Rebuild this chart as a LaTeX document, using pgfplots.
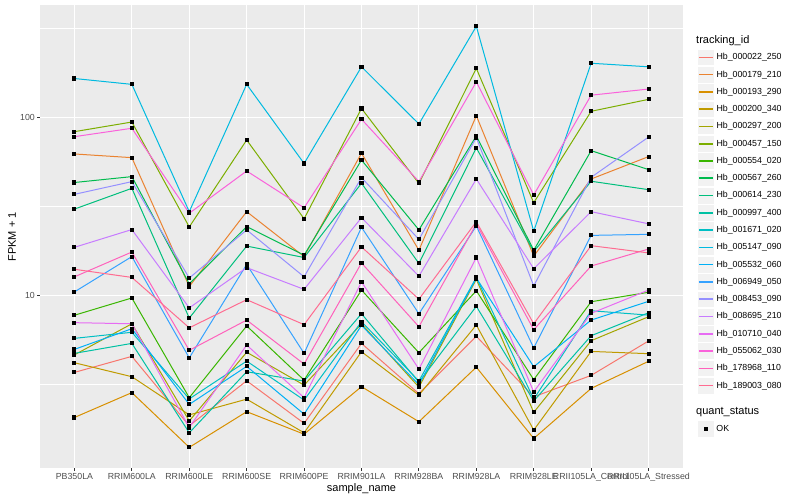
\documentclass[border=0pt]{standalone}
\usepackage{pgfplots}
\pgfplotsset{compat=1.18}
\usepackage{pgfplotstable}
\usepackage{fontspec}
\setmainfont{Liberation Sans}

\definecolor{panelbg}{HTML}{EBEBEB}
\definecolor{keybg}{HTML}{F2F2F2}
\definecolor{tickgray}{HTML}{4D4D4D}
\definecolor{tickcol}{HTML}{333333}
\definecolor{c1}{HTML}{F8766D}
\definecolor{c2}{HTML}{EA8331}
\definecolor{c3}{HTML}{D89000}
\definecolor{c4}{HTML}{C09B00}
\definecolor{c5}{HTML}{A3A500}
\definecolor{c6}{HTML}{7CAE00}
\definecolor{c7}{HTML}{39B600}
\definecolor{c8}{HTML}{00BB4E}
\definecolor{c9}{HTML}{00BF7D}
\definecolor{c10}{HTML}{00C1A3}
\definecolor{c11}{HTML}{00BFC4}
\definecolor{c12}{HTML}{00BAE0}
\definecolor{c13}{HTML}{00B0F6}
\definecolor{c14}{HTML}{35A2FF}
\definecolor{c15}{HTML}{9590FF}
\definecolor{c16}{HTML}{C77CFF}
\definecolor{c17}{HTML}{E76BF3}
\definecolor{c18}{HTML}{FA62DB}
\definecolor{c19}{HTML}{FF62BC}
\definecolor{c20}{HTML}{FF6C91}

% FPKM + 1 per sample (rows) and gene (columns s1..s20, legend order)
\pgfplotstableread{
x  s1   s2    s3   s4   s5    s6   s7    s8    s9    s10  s11  s12  s13  s14   s15   s16   s17   s18   s19   s20
0  3.69 62.2  2.06 4.18 4.63  83   7.73  43.0  30.5  4.72 5.73 165  4.97 10.45 36.9  18.6  7.02  77.8  12.7  14.0
1  4.54 59.3  2.84 3.49 6.92  94   9.66  46.4  39.9  5.37 6.20 153  6.49 16.5  43.5  23.4  6.92  86.7  17.5  12.6
2  1.85 11.2  1.40 2.13 1.97  24.2 2.66  11.6  7.45  1.69 2.62 29.5 2.44 4.45  12.5  8.5   1.81  28.9  4.91  6.57
3  3.31 29.5  2.22 2.61 4.79  74.5 6.73  24.3  18.9  3.72 4.27 153  3.99 14.9  23.3  14.3  5.26  49.9  7.26  9.45
4  1.91 16.5  1.66 1.69 3.13  26.9 3.34  16.8  16.3  3.30 2.58 55   2.15 4.72  12.7  10.8  2.66  31.0  4.11  6.84
5  5.37 62.8  3.07 4.82 6.91  112  10.7  57.5  42.6  7.88 7.11 192  6.78 24.1  45.8  27.3  11.9  97.5  15.2  18.7
6  2.80 17.9  1.95 2.75 3.05  42.5 4.76  23.3  15.1  3.25 3.30 91.7 3.15 7.88  20.6  12.8  3.85  43.5  6.66  9.51
7  5.89 102   3.95 6.81 12.3  188  10.6  78.5  67.3  8.67 12.6 324  12.5 24.5  76.8  45.0  16.3  158   25.2  25.9
8  2.69 16.6  1.57 1.75 2.20  33.1 3.36  17.9  17.6  2.55 2.61 22.9 3.97 5.06  11.3  14.1  2.87  36.6  6.41  6.92
9  3.55 45.0  3.00 4.84 5.56  108  9.2   64.9  43.7  5.93 8.19 201  7.26 21.7  46.0  29.5  7.92  133   14.6  19.0
10 5.54 60.1  4.26 4.70 7.58  126  10.4  50.8  39.2  7.98 7.74 192  9.25 22.0  77.4  25.2  10.7  144   18.2  17.3
}\fpkm

\begin{document}
\begin{tikzpicture}
\useasboundingbox (0pt,0pt) rectangle (800pt,500pt);
\begin{axis}[
  at={(40pt,31.65pt)}, anchor=south west,
  scale only axis, width=643pt, height=463.1pt,
  xmin=-0.6, xmax=10.6,
  ymode=log, ymin=1.067, ymax=425.6,
  axis background/.style={fill=panelbg},
  axis line style={draw=none},
  xtick={0,...,10},
  xticklabels={PB350LA,RRIM600LA,RRIM600LE,RRIM600SE,RRIM600PE,RRIM901LA,RRIM928BA,RRIM928LA,RRIM928LE,RRII105LA\_Control,RRII105LA\_Stressed},
  ytick={10,100}, yticklabels={10,100},
  minor ytick={3.16228,31.6228,316.228},
  xmajorgrids, ymajorgrids, yminorgrids,
  major grid style={white, line width=1.07pt},
  minor grid style={white, line width=0.53pt},
  tick align=outside, xtick pos=left, ytick pos=left,
  major tick length=2.74pt, minor tick length=0pt,
  major tick style={draw=tickcol, line width=1.07pt},
  ticklabel style={font=\fontsize{8.8}{10}\selectfont, text=tickgray, inner sep=0pt},
  xticklabel style={yshift=-2.2pt},
  yticklabel style={xshift=-2.2pt},
  legend style={at={(1.0218,0.9062)}, anchor=north west, draw=none, fill=none,
    inner sep=0pt, outer sep=0pt, row sep=0pt, column sep=2.2pt,
    font=\fontsize{8.8}{10}\selectfont, nodes={inner sep=0pt, outer sep=0pt}},
  legend cell align=left,
  legend image code/.code={
    \draw[draw=white, fill=keybg, line width=0.6pt] (0.3pt,-8.34pt) rectangle (16.98pt,8.34pt);
    \draw[#1, line width=1.6pt] (1.73pt,0pt) -- (15.55pt,0pt);
  },
  every axis plot/.append style={line width=1pt, mark=none},
]
\addplot[color=c1]  table[x=x,y=s1]  {\fpkm}; \addlegendentry{Hb\_000022\_250}
\addplot[color=c2]  table[x=x,y=s2]  {\fpkm}; \addlegendentry{Hb\_000179\_210}
\addplot[color=c3]  table[x=x,y=s3]  {\fpkm}; \addlegendentry{Hb\_000193\_290}
\addplot[color=c4]  table[x=x,y=s4]  {\fpkm}; \addlegendentry{Hb\_000200\_340}
\addplot[color=c5]  table[x=x,y=s5]  {\fpkm}; \addlegendentry{Hb\_000297\_200}
\addplot[color=c6]  table[x=x,y=s6]  {\fpkm}; \addlegendentry{Hb\_000457\_150}
\addplot[color=c7]  table[x=x,y=s7]  {\fpkm}; \addlegendentry{Hb\_000554\_020}
\addplot[color=c8]  table[x=x,y=s8]  {\fpkm}; \addlegendentry{Hb\_000567\_260}
\addplot[color=c9]  table[x=x,y=s9]  {\fpkm}; \addlegendentry{Hb\_000614\_230}
\addplot[color=c10] table[x=x,y=s10] {\fpkm}; \addlegendentry{Hb\_000997\_400}
\addplot[color=c11] table[x=x,y=s11] {\fpkm}; \addlegendentry{Hb\_001671\_020}
\addplot[color=c12] table[x=x,y=s12] {\fpkm}; \addlegendentry{Hb\_005147\_090}
\addplot[color=c13] table[x=x,y=s13] {\fpkm}; \addlegendentry{Hb\_005532\_060}
\addplot[color=c14] table[x=x,y=s14] {\fpkm}; \addlegendentry{Hb\_006949\_050}
\addplot[color=c15] table[x=x,y=s15] {\fpkm}; \addlegendentry{Hb\_008453\_090}
\addplot[color=c16] table[x=x,y=s16] {\fpkm}; \addlegendentry{Hb\_008695\_210}
\addplot[color=c17] table[x=x,y=s17] {\fpkm}; \addlegendentry{Hb\_010710\_040}
\addplot[color=c18] table[x=x,y=s18] {\fpkm}; \addlegendentry{Hb\_055062\_030}
\addplot[color=c19] table[x=x,y=s19] {\fpkm}; \addlegendentry{Hb\_178968\_110}
\addplot[color=c20] table[x=x,y=s20] {\fpkm}; \addlegendentry{Hb\_189003\_080}
% points on top of all lines
\pgfplotsinvokeforeach{1,...,20}{
  \addplot[forget plot, only marks, mark=square*, mark size=1.55pt, draw=black, fill=black]
    table[x=x,y=s#1] {\fpkm};
}
\end{axis}

% second legend: quant_status
\begin{axis}[
  at={(0pt,0pt)}, anchor=south west,
  scale only axis, width=800pt, height=500pt,
  hide axis, xmin=0, xmax=1, ymin=0, ymax=1,
  legend style={at={(0.87125,0.15928)}, anchor=north west, draw=none, fill=none,
    inner sep=0pt, outer sep=0pt, row sep=0pt, column sep=2.2pt,
    font=\fontsize{8.8}{10}\selectfont, nodes={inner sep=0pt, outer sep=0pt}},
  legend cell align=left,
  legend image code/.code={
    \draw[draw=white, fill=keybg, line width=0.6pt] (0.3pt,-8.34pt) rectangle (16.98pt,8.34pt);
    \draw[#1] plot coordinates {(8.64pt,0pt)};
  },
]
\addplot[draw=none, forget plot] coordinates {(0,0) (1,1)};
\addlegendimage{only marks, mark=square*, mark size=1.55pt, draw=black, fill=black}
\addlegendentry{OK}
\end{axis}

\node[anchor=west, inner sep=0pt, font=\fontsize{11}{13}\selectfont] at (696pt,459.3pt) {tracking\_id};
\node[anchor=west, inner sep=0pt, font=\fontsize{11}{13}\selectfont] at (696pt,87.7pt) {quant\_status};
\node[inner sep=0pt, font=\fontsize{11}{13}\selectfont] at (361.5pt,11pt) {sample\_name};
\node[inner sep=0pt, rotate=90, font=\fontsize{11}{13}\selectfont] at (12pt,263.2pt) {FPKM + 1};
\end{tikzpicture}
\end{document}
